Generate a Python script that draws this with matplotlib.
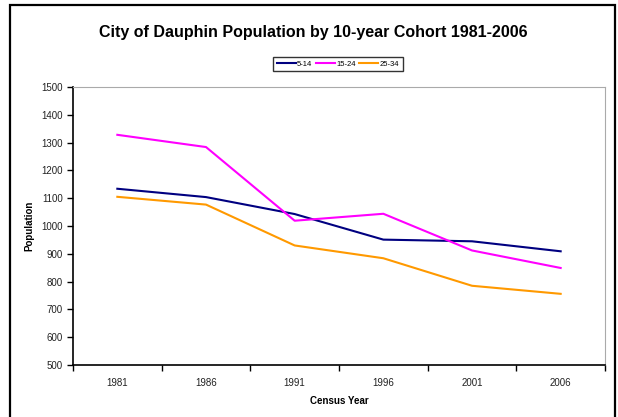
import numpy as np
import matplotlib.pyplot as plt
from matplotlib.patches import Rectangle

# Данные
years = ['1981', '1986', '1991', '1996', '2001', '2006']
cohort_5_14 = [1134, 1104, 1043, 951, 945, 909]
cohort_15_24 = [1328, 1284, 1019, 1044, 912, 849]
cohort_25_34 = [1105, 1077, 930, 884, 785, 756]

plt.rcParams['font.family'] = ['Liberation Sans', 'DejaVu Sans']

W, H = 618, 417
fig = plt.figure(figsize=(W / 100, H / 100), dpi=100)

# рамка вокруг всей диаграммы
fig.patches.append(Rectangle((10 / W, -0.05), 605 / W, 1 - 5 / H + 0.05,
                             transform=fig.transFigure, fill=False,
                             edgecolor='black', linewidth=1.6))

ax = fig.add_axes([73 / W, 1 - 365 / H, (605 - 73) / W, (365 - 87) / H])
x = np.arange(len(years))
ax.plot(x, cohort_5_14, color='#000080', lw=1.5, label='5-14')
ax.plot(x, cohort_15_24, color='#FF00FF', lw=1.5, label='15-24')
ax.plot(x, cohort_25_34, color='#FF9900', lw=1.5, label='25-34')

ax.set_xlim(-0.5, len(years) - 0.5)
ax.set_ylim(500, 1500)
ax.set_yticks(np.arange(500, 1501, 100))
ax.set_xticks(np.arange(-0.5, len(years), 1))
ax.set_xticklabels([])
ax.set_xticks(x, minor=True)
ax.set_xticklabels(years, minor=True)
ax.tick_params(axis='x', which='minor', length=0, pad=9, labelsize=7, colors='#222222')
ax.tick_params(axis='x', which='major', length=4, width=1, direction='out')
ax.tick_params(axis='y', length=4, width=1, direction='out', labelsize=7, colors='#222222')
ax.tick_params(axis='both', which='both', color='black')

ax.spines['left'].set_color('black')
ax.spines['bottom'].set_color('black')
ax.spines['top'].set_color('#AAAAAA')
ax.spines['right'].set_color('#AAAAAA')
ax.spines['left'].set_linewidth(1.2)
ax.spines['bottom'].set_linewidth(1.2)

ax.set_xlabel('Census Year', fontsize=7, fontweight='bold', labelpad=6)
ax.set_ylabel('Population', fontsize=7, fontweight='bold', labelpad=5)

fig.text(313 / W, 1 - 33 / H, 'City of Dauphin Population by 10-year Cohort 1981-2006',
         ha='center', va='center', fontsize=11.5, fontweight='bold')

leg = fig.legend(loc='center', bbox_to_anchor=(338 / W, 1 - 64 / H), ncol=3,
                 fontsize=5.5, frameon=True, fancybox=False, shadow=False,
                 handlelength=2.4, handletextpad=0.2, columnspacing=0.5,
                 borderpad=0.5, borderaxespad=0)
leg.get_frame().set_edgecolor('black')
leg.get_frame().set_linewidth(1)
for ln in leg.get_lines():
    ln.set_linewidth(1.5)

fig.savefig('out.png', dpi=100)
